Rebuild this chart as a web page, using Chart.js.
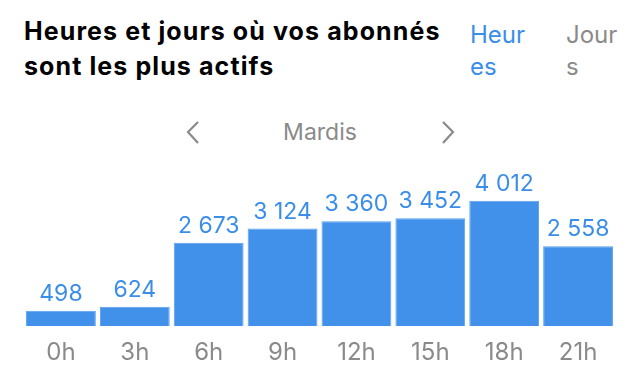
<!DOCTYPE html>
<html><head><meta charset="utf-8">
<script src="https://cdn.jsdelivr.net/npm/chart.js@4"></script>
<style>
html,body{margin:0;padding:0;background:#fff;width:640px;height:381px;overflow:hidden;font-family:Inter,"Noto Sans",sans-serif}
#wrap{position:absolute;left:0;top:0;width:640px;height:381px}
.title{position:absolute;left:24px;top:14px;font-family:Inter,"Noto Sans",sans-serif;font-weight:700;font-size:25px;line-height:35px;color:#000;letter-spacing:1.1px}
.tab{position:absolute;top:19px;font-size:24px;line-height:32px}
.nav{position:absolute;left:0;top:118px;width:640px;text-align:center;font-size:23px;color:#8a8a8a}
svg{position:absolute;left:0;top:0}
canvas{position:absolute;left:0;top:0}
</style></head><body>
<div id="wrap">
<div class="title">Heures et jours où vos abonnés<br>sont les plus actifs</div>
<div class="tab" style="left:470px;color:#3a8eea">Heur<br>es</div>
<div class="tab" style="left:566px;color:#8a8a8a">Jour<br>s</div>
<div class="nav">Mardis</div>
<svg width="640" height="381"><polyline points="198,122 188,132 198,143" fill="none" stroke="#8a8a8a" stroke-width="2.2"/><polyline points="443,122 453,132 443,143" fill="none" stroke="#8a8a8a" stroke-width="2.2"/></svg>
<canvas id="c" width="640" height="381"></canvas>
</div>
<script>
const categories = ["0h","3h","6h","9h","12h","15h","18h","21h"];
const followers = [498, 624, 2673, 3124, 3360, 3452, 4012, 2558];
const yMax = 5000;

const fmt = v => String(v).replace(/\B(?=(\d{3})+(?!\d))/g, " ");
const valueLabels = {
  id:'valueLabels',
  afterDatasetsDraw(chart){
    const ctx = chart.ctx;
    const meta = chart.getDatasetMeta(0);
    ctx.save();
    ctx.fillStyle = '#3a8eea';
    ctx.font = '23px Inter, "Noto Sans", sans-serif';
    ctx.textAlign = 'center';
    ctx.textBaseline = 'alphabetic';
    meta.data.forEach((bar,i)=>{
      ctx.fillText(fmt(chart.data.datasets[0].data[i]), bar.x, bar.y - 10);
    });
    ctx.restore();
  }
};

new Chart(document.getElementById('c'), {
  type:'bar',
  data:{labels:categories, datasets:[{data:followers, backgroundColor:'#4190ea', borderColor:'#5a9ff0', borderWidth:1, barPercentage:0.945, categoryPercentage:1}]},
  options:{
    responsive:false, animation:false,
    layout:{padding:{top:170, left:24, right:25, bottom:2}},
    plugins:{legend:{display:false}, tooltip:{enabled:false}},
    scales:{
      y:{display:false, min:0, max:yMax},
      x:{grid:{display:false, drawTicks:false}, border:{display:false},
         ticks:{color:'#8a8a8a', font:{size:24, family:'Inter, "Noto Sans", sans-serif'}, padding:12}}
    }
  },
  plugins:[valueLabels]
});
</script>
</body></html>
